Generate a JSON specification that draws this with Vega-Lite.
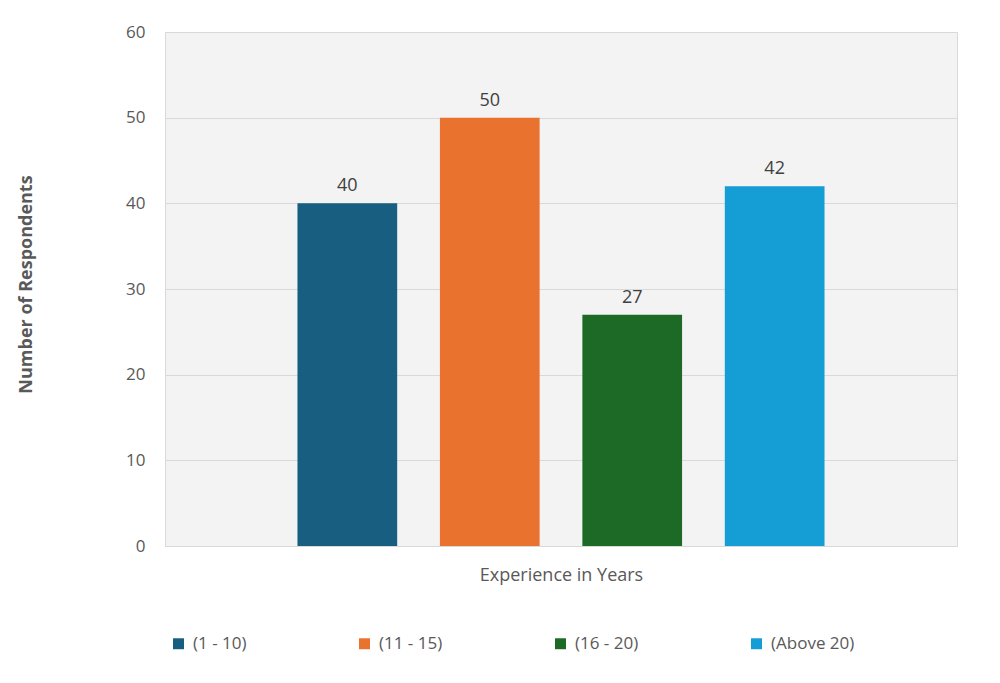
{
  "$schema": "https://vega.github.io/schema/vega-lite/v6.json",
  "autosize": {"type": "none"},
  "width": 792,
  "height": 514,
  "padding": {"left": 165, "top": 32, "right": 43, "bottom": 137},
  "background": "white",
  "config": {
    "font": "Open Sans",
    "view": {"fill": "#f3f3f3", "stroke": "#d9d9d9", "strokeWidth": 1}
  },
  "data": {
    "values": [
      {"group": "(1 - 10)", "respondents": 40},
      {"group": "(11 - 15)", "respondents": 50},
      {"group": "(16 - 20)", "respondents": 27},
      {"group": "(Above 20)", "respondents": 42}
    ]
  },
  "encoding": {
    "x": {
      "field": "group",
      "type": "nominal",
      "sort": null,
      "scale": {"paddingInner": 0.3, "paddingOuter": 0.93},
      "axis": {
        "title": "Experience in Years",
        "labels": false,
        "ticks": false,
        "domain": false,
        "titleFontSize": 18,
        "titleFontWeight": "normal",
        "titleColor": "#595959",
        "titlePadding": 20
      }
    },
    "y": {
      "field": "respondents",
      "type": "quantitative",
      "scale": {"domain": [0, 60]},
      "axis": {
        "title": "Number of Respondents",
        "values": [0, 10, 20, 30, 40, 50, 60],
        "labelOverlap": false,
        "grid": true,
        "gridColor": "#d9d9d9",
        "domain": false,
        "ticks": false,
        "labelPadding": 20,
        "labelFontSize": 17,
        "labelColor": "#595959",
        "titleFontSize": 18,
        "titleFontWeight": "bold",
        "titleColor": "#595959",
        "titleX": -130,
        "titleY": 252
      }
    }
  },
  "layer": [
    {
      "mark": {"type": "bar"},
      "encoding": {
        "color": {
          "field": "group",
          "type": "nominal",
          "sort": null,
          "scale": {"range": ["#175e80", "#e9722f", "#1c6a26", "#159dd6"]},
          "legend": {
            "title": null,
            "orient": "none",
            "direction": "horizontal",
            "legendX": 5,
            "legendY": 603,
            "symbolType": "square",
            "symbolSize": 120,
            "symbolStrokeWidth": 0,
            "labelFontSize": 17,
            "labelColor": "#595959",
            "columnPadding": 109,
            "labelOffset": 6
          }
        }
      }
    },
    {
      "mark": {"type": "text", "dy": -17, "fontSize": 18, "color": "#404040"},
      "encoding": {"text": {"field": "respondents", "type": "quantitative"}}
    }
  ]
}
